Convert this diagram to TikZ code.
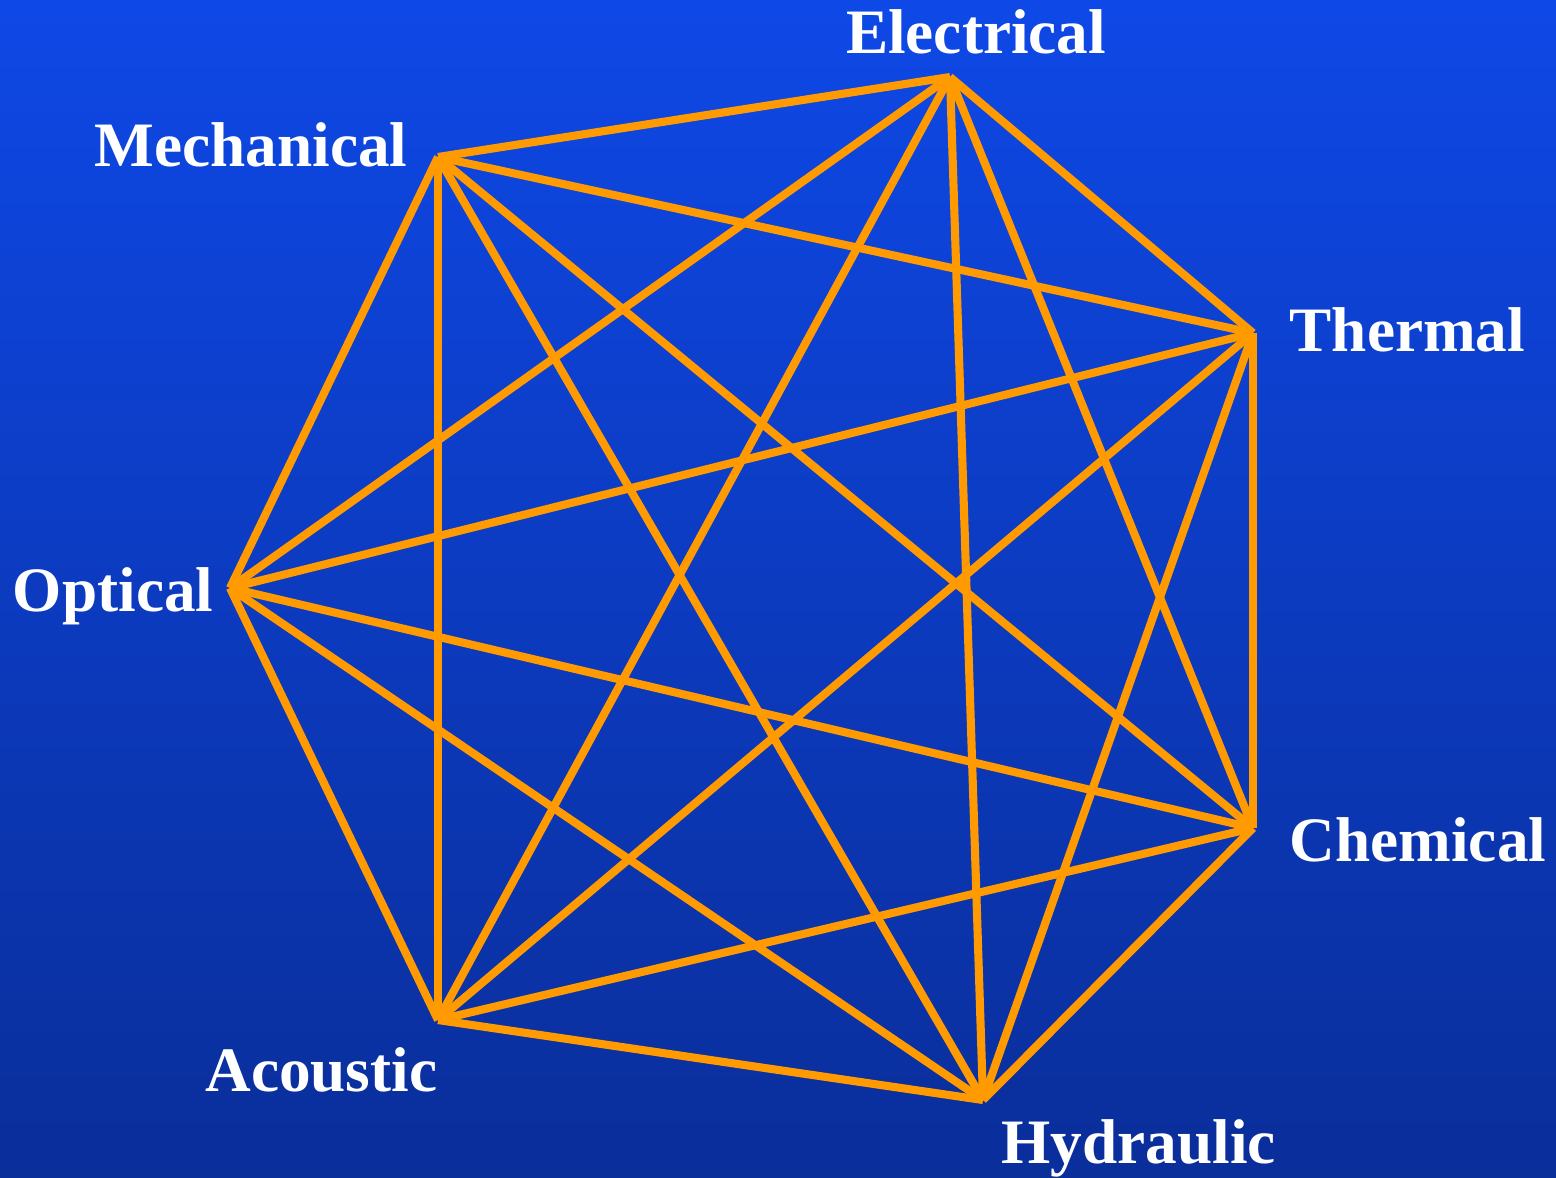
\documentclass[tikz,border=0pt]{standalone}
\usepackage{fontspec}
\setmainfont{Liberation Serif}
\usepackage{tikz}
\usetikzlibrary{positioning}
\definecolor{skytop}{HTML}{0E48E6}
\definecolor{skybottom}{HTML}{0A2E9A}
\definecolor{linkorange}{HTML}{FF9A00}

\begin{document}
\begin{tikzpicture}[
    link/.style={draw=linkorange, line width=2.3pt},
    domainlabel/.style={text=white, font=\fontsize{18}{20}\selectfont\bfseries, inner sep=0pt},
]
% Background
\shade[top color=skytop, bottom color=skybottom] (0,0) rectangle (15.56,-11.77);
\useasboundingbox (0,0) rectangle (15.56,-11.77);
% Vertices
\coordinate (elec) at (9.50,-0.77);
\coordinate (mech) at (4.38,-1.57);
\coordinate (therm) at (12.53,-3.33);
\coordinate (opt) at (2.30,-5.88);
\coordinate (chem) at (12.53,-8.28);
\coordinate (acou) at (4.38,-10.20);
\coordinate (hydr) at (9.83,-11.00);
% All links
\foreach \a [count=\i] in {elec,mech,opt,acou,hydr,chem,therm} {
    \foreach \b [count=\j] in {elec,mech,opt,acou,hydr,chem,therm} {
        \ifnum\j>\i \draw[link] (\a) -- (\b); \fi
    }
}
% Labels
\node[domainlabel, anchor=base] (elecl) at (9.76,-0.53) {Electrical};
\node[domainlabel, anchor=base east] (mechl) at (4.08,-1.66) {Mechanical};
\node[domainlabel, anchor=base west] (therml) at (12.89,-3.51) {Thermal};
\node[domainlabel, anchor=base east] (optl) at (2.14,-6.11) {Optical};
\node[domainlabel, anchor=base west] (cheml) at (12.89,-8.61) {Chemical};
\node[domainlabel, anchor=base east] (acoul) at (4.38,-10.91) {Acoustic};
\node[domainlabel, anchor=base west] (hydrl) at (10.01,-11.63) {Hydraulic};
\end{tikzpicture}
\end{document}
